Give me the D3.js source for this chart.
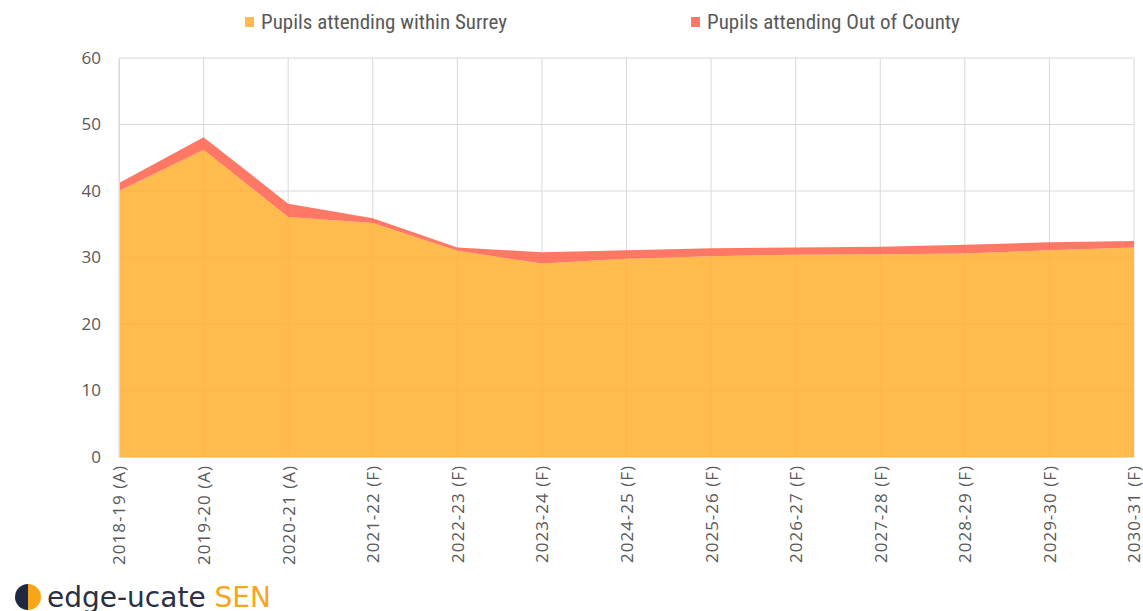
<!DOCTYPE html>
<html>
<head>
<meta charset="utf-8">
<script src="https://cdn.jsdelivr.net/npm/d3@7"></script>
<style>
  body { margin: 0; background: #fff; }
  svg { display: block; }
</style>
</head>
<body>
<div id="chart"></div>
<script>
// data
var years = ["2018-19 (A)", "2019-20 (A)", "2020-21 (A)", "2021-22 (F)", "2022-23 (F)", "2023-24 (F)",
    "2024-25 (F)", "2025-26 (F)", "2026-27 (F)", "2027-28 (F)", "2028-29 (F)", "2029-30 (F)", "2030-31 (F)"];
var withinSurrey = [40.0, 46.2, 36.1, 35.2, 31.0, 29.1, 29.8, 30.2, 30.4, 30.5, 30.6, 31.1, 31.5];
var outOfCounty = [1.2, 1.9, 2.0, 0.7, 0.5, 1.7, 1.3, 1.2, 1.1, 1.1, 1.3, 1.2, 1.0];
var seriesNames = ["Pupils attending within Surrey", "Pupils attending Out of County"];
var yTicks = [0, 10, 20, 30, 40, 50, 60];

//setup
var width = 1143,
    height = 611,
    plotLeft = 119,
    plotRight = 1134,
    plotTop = 58,
    plotBottom = 457;

var colors = ["#ffaf2f", "#ff604b"];

var svg = d3.select("#chart").append("svg")
    .attr("width", width)
    .attr("height", height);

var x = d3.scalePoint()
    .domain(years)
    .range([plotLeft, plotRight]);

var y = d3.scaleLinear()
    .domain([0, 60])
    .range([plotBottom, plotTop]);

var rows = years.map(function (d, i) {
    return { year: d, surrey: withinSurrey[i], ooc: outOfCounty[i] };
});
var stacked = d3.stack().keys(["surrey", "ooc"])(rows);

// grid
var grid = svg.append("g");
grid.selectAll(".hg").data(yTicks)
    .enter().append("line")
    .attr("x1", plotLeft).attr("x2", plotRight)
    .attr("y1", function (d) { return y(d); })
    .attr("y2", function (d) { return y(d); })
    .attr("stroke", "#d9d9d9")
    .attr("stroke-width", 1);
grid.selectAll(".vg").data(years)
    .enter().append("line")
    .attr("x1", function (d) { return x(d); })
    .attr("x2", function (d) { return x(d); })
    .attr("y1", plotTop).attr("y2", plotBottom)
    .attr("stroke", "#d9d9d9")
    .attr("stroke-width", 1);

// areas
var area = d3.area()
    .x(function (d) { return x(d.data.year); })
    .y0(function (d) { return y(d[0]); })
    .y1(function (d) { return y(d[1]); });

svg.selectAll(".layer").data(stacked)
    .enter().append("path")
    .attr("d", area)
    .attr("fill", function (d, i) { return colors[i]; })
    .attr("fill-opacity", 0.85);

// y axis
var yAxis = svg.append("g")
    .attr("transform", "translate(" + plotLeft + ",0)")
    .call(d3.axisLeft(y).tickValues(yTicks).tickSize(0).tickPadding(18));
yAxis.select(".domain").attr("stroke", "#d9d9d9");
yAxis.selectAll("text")
    .attr("fill", "#595959")
    .style("font-family", "'Open Sans', 'Noto Sans', sans-serif")
    .style("font-size", "17px");

// x axis
var xAxis = svg.append("g")
    .attr("transform", "translate(0," + plotBottom + ")")
    .call(d3.axisBottom(x).tickSize(0).tickPadding(8));
xAxis.select(".domain").attr("stroke", "#d9d9d9");
xAxis.selectAll("text")
    .attr("fill", "#595959")
    .attr("transform", "rotate(-90)")
    .attr("text-anchor", "end")
    .attr("x", -8)
    .attr("y", 0)
    .attr("dy", "0.35em")
    .style("font-family", "'Open Sans', 'Noto Sans', sans-serif")
    .style("font-size", "17px")
    .style("letter-spacing", "1px");

// legend
var legendX = [245, 691];
var legend = svg.selectAll(".legend").data(seriesNames)
    .enter().append("g")
    .attr("transform", function (d, i) { return "translate(" + legendX[i] + ",16)"; });
legend.append("rect")
    .attr("width", 9).attr("height", 10)
    .attr("y", 1)
    .attr("fill", function (d, i) { return colors[i]; })
    .attr("fill-opacity", 0.85);
legend.append("text")
    .attr("x", 16)
    .attr("y", 13)
    .attr("fill", "#595959")
    .style("font-family", "'Liberation Sans Narrow', 'Roboto Condensed', 'Open Sans', sans-serif")
    .style("font-size", "21px")
    .text(function (d) { return d; });

// logo
var logo = svg.append("g").attr("transform", "translate(28,597)");
logo.append("path")
    .attr("d", d3.arc()({ innerRadius: 0, outerRadius: 13, startAngle: Math.PI, endAngle: 2 * Math.PI }))
    .attr("fill", "#1f2940");
logo.append("path")
    .attr("d", d3.arc()({ innerRadius: 0, outerRadius: 13, startAngle: 0, endAngle: Math.PI }))
    .attr("fill", "#f9a51a");
var logoText = svg.append("text")
    .attr("x", 47)
    .attr("y", 607)
    .style("font-family", "'DejaVu Sans', 'Open Sans', sans-serif")
    .style("font-size", "28px");
logoText.append("tspan").attr("fill", "#2b3044").text("edge-ucate ");
logoText.append("tspan").attr("fill", "#f9a51a").text("SEN");
</script>
</body>
</html>
